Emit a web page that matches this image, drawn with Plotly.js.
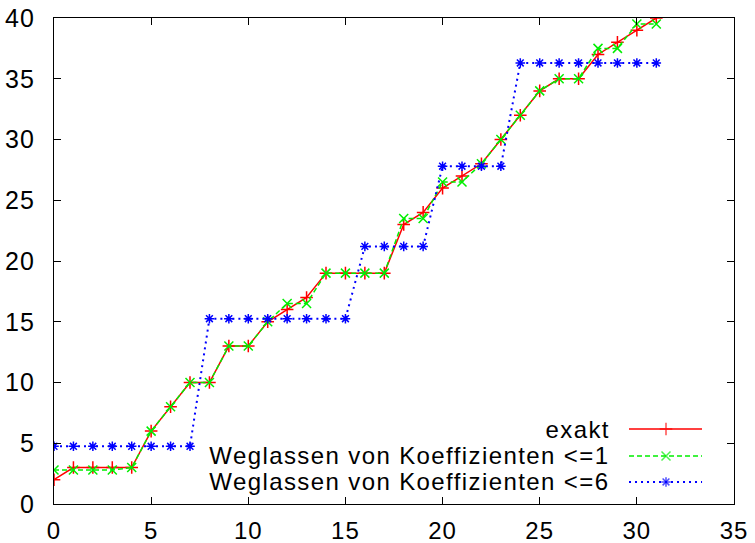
<!DOCTYPE html>
<html>
<head>
<meta charset="utf-8">
<script src="https://cdn.plot.ly/plotly-3.0.1.min.js"></script>
<style>
html,body{margin:0;padding:0;background:#fff;}
#chart{width:755px;height:543px;}
#chart text.annotation-text{letter-spacing:1.4px;}
#chart .xtick text, #chart .ytick text{letter-spacing:1px;}
</style>
</head>
<body>
<div id="chart"></div>
<script>
// x positions (coefficient index)
const xVals = [0,1,2,3,4,5,6,7,8,9,10,11,12,13,14,15,16,17,18,19,20,21,22,23,24,25,26,27,28,29,30,31];
// exakt
const exakt = [2,3,3,3,3,6,8,10,10,13,13,15,16,17,19,19,19,19,23,24,26,27,28,30,32,34,35,35,37,38,39,40];
// Weglassen von Koeffizienten <=1
const weg1 = [2.8,2.8,2.8,2.8,3,6,8,10,10,13,13,15,16.5,16.5,19,19,19,19,23.5,23.5,26.5,26.5,28,30,32,34,35,35,37.5,37.5,39.5,39.5];
// Weglassen von Koeffizienten <=6
const weg6 = [4.75,4.75,4.75,4.75,4.75,4.75,4.75,4.75,15.25,15.25,15.25,15.25,15.25,15.25,15.25,15.25,21.2,21.2,21.2,21.2,27.8,27.8,27.8,27.8,36.3,36.3,36.3,36.3,36.3,36.3,36.3,36.3];

const seriesNames = ["exakt", "Weglassen von Koeffizienten <=1", "Weglassen von Koeffizienten <=6"];
const xTicks = [0,5,10,15,20,25,30,35];
const yTicks = [0,5,10,15,20,25,30,35,40];

const FONT = "Liberation Sans, Arial, sans-serif";
const LETTER_SP = 1.4;
const styles = [
  {color:"#ff0000", dash:"solid", width:1.5, symbol:"cross-thin-open", size:9},
  {color:"#00ee00", dash:"5px,3px", width:1.5, symbol:"x-thin-open", size:9},
  {color:"#0000ff", dash:"2px,4px", width:2, symbol:"asterisk-open", size:8}
];
const dataSets = [exakt, weg1, weg6];

const traces = dataSets.map((ys, i) => ({
  x: xVals, y: ys, type: "scatter", mode: "lines+markers", name: seriesNames[i],
  line: {color: styles[i].color, dash: styles[i].dash, width: styles[i].width},
  marker: {symbol: styles[i].symbol, size: styles[i].size, color: styles[i].color,
           line: {color: styles[i].color, width: 1.5}},
  showlegend: false, hoverinfo: "skip"
}));

// custom gnuplot-style legend (text left, sample right)
const legRows = [0.1543, 0.0988, 0.0453];
const legX0 = 0.8456, legX1 = 0.953, legXm = 0.9;
const annotations = [];
seriesNames.forEach((nm, i) => {
  traces.push({
    x: [legX0, legXm, legX1], y: [legRows[i], legRows[i], legRows[i]],
    xaxis: "x2", yaxis: "y2", type: "scatter", mode: "lines+markers",
    line: {color: styles[i].color, dash: styles[i].dash, width: styles[i].width},
    marker: {symbol: styles[i].symbol, size: [0, styles[i].size, 0], color: styles[i].color,
             line: {color: styles[i].color, width: 1.5}},
    showlegend: false, hoverinfo: "skip"
  });
  annotations.push({
    xref: "paper", yref: "paper", x: 0.8206, y: legRows[i], xanchor: "right", yanchor: "middle",
    xshift: -nm.length * LETTER_SP / 2,
    text: nm, showarrow: false, font: {family: FONT, size: 24, color: "#000"}
  });
});

const axisCommon = {
  showgrid: false, zeroline: false, showline: true, linecolor: "#000", linewidth: 1.2,
  mirror: "ticks", ticks: "inside", ticklen: 7, tickwidth: 1, tickcolor: "#000"
};

const layout = {
  width: 755, height: 543,
  margin: {l: 54, r: 21, t: 18, b: 39, pad: 0},
  paper_bgcolor: "#fff", plot_bgcolor: "#fff",
  xaxis: Object.assign({}, axisCommon, {range: [0, 35], tickvals: xTicks, ticktext: xTicks.map(String),
    ticklabelstandoff: 5, tickfont: {family: FONT, size: 24, color: "#000"}}),
  yaxis: Object.assign({}, axisCommon, {range: [0, 40], tickvals: yTicks, ticktext: yTicks.map(String),
    ticklabelstandoff: 13, tickfont: {family: FONT, size: 25, color: "#000"}}),
  xaxis2: {overlaying: "x", range: [0, 1], visible: false, fixedrange: true},
  yaxis2: {overlaying: "y", range: [0, 1], visible: false, fixedrange: true},
  annotations: annotations,
  showlegend: false
};

Plotly.newPlot("chart", traces, layout, {staticPlot: true, displayModeBar: false});
</script>
</body>
</html>
